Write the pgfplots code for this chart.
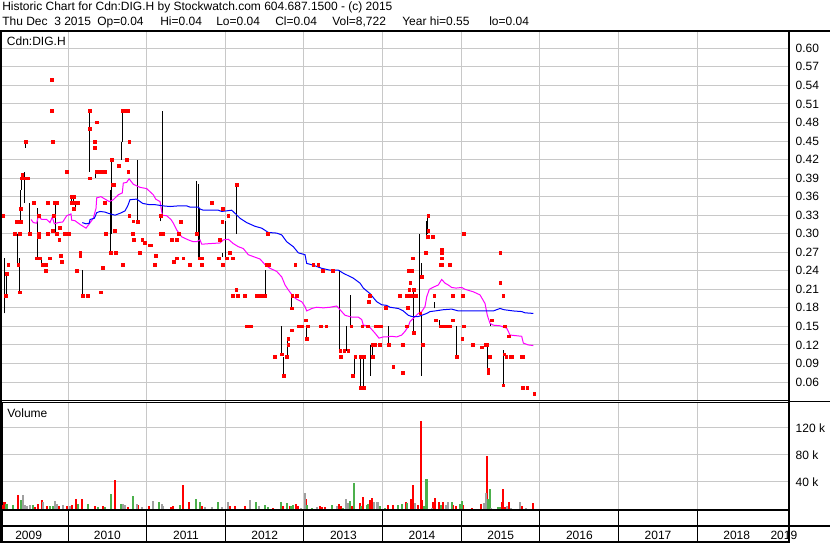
\documentclass[border=0pt]{standalone}
\usepackage{fontspec}
\setmainfont{Liberation Sans}
\usepackage{pgfplots}
\pgfplotsset{compat=1.18}

\definecolor{swred}{RGB}{255,0,0}
\definecolor{swgreen}{RGB}{76,176,76}
\definecolor{swgray}{RGB}{160,160,160}
\definecolor{swgrid}{RGB}{200,200,200}
\definecolor{swmag}{RGB}{255,0,255}
\definecolor{swblue}{RGB}{0,0,255}

% 1 px of the 830x543 reference = 0.75pt
\pgfplotsset{
  swbase/.style={
    scale only axis, width=590.25pt, anchor=south west,
    xmin=2009.161, xmax=2019.165,
    xtick={2010,...,2018}, xticklabels={}, xmajorgrids,
    grid style={swgrid, line width=0.75pt},
    major tick length=0pt,
    axis line style={line width=0.75pt},
    yticklabel pos=right,
    yticklabel style={font=\fontsize{9}{10.8}\selectfont, xshift=1.5pt},
  },
}

\begin{document}
\begin{tikzpicture}[font=\fontsize{9}{10.8}\selectfont]
\path[use as bounding box] (0,0) rectangle (622.5pt,407.25pt);

% ---------------- price panel
\begin{axis}[swbase, at={(1.5pt,107.25pt)}, height=276pt,
  ymin=0.0309, ymax=0.6264, ymajorgrids,
  ytick={0.06,0.09,0.12,0.15,0.18,0.21,0.24,0.27,0.30,0.33,0.36,0.39,0.42,0.45,0.48,0.51,0.54,0.57,0.60},
  yticklabels={0.06,0.09,0.12,0.15,0.18,0.21,0.24,0.27,0.30,0.33,0.36,0.39,0.42,0.45,0.48,0.51,0.54,0.57,0.60},
  unbounded coords=jump]

% high-low bars
\addplot[black, line width=0.75pt, mark=none] coordinates {
(2009.190,0.171)(2009.190,0.260)(2009.190,nan)
(2009.216,0.200)(2009.216,0.236)(2009.216,nan)
(2009.356,0.250)(2009.356,0.300)(2009.356,nan)
(2009.381,0.205)(2009.381,0.260)(2009.381,nan)
(2009.399,0.319)(2009.399,0.371)(2009.399,nan)
(2009.406,0.371)(2009.406,0.395)(2009.406,nan)
(2009.445,0.350)(2009.445,0.400)(2009.445,nan)
(2009.457,0.439)(2009.457,0.449)(2009.457,nan)
(2009.513,0.300)(2009.513,0.350)(2009.513,nan)
(2009.610,0.260)(2009.610,0.341)(2009.610,nan)
(2009.661,0.250)(2009.661,0.260)(2009.661,nan)
(2009.839,0.306)(2009.839,0.344)(2009.839,nan)
(2009.847,0.300)(2009.847,0.349)(2009.847,nan)
(2010.042,0.350)(2010.042,0.360)(2010.042,nan)
(2010.067,0.350)(2010.067,0.360)(2010.067,nan)
(2010.093,0.340)(2010.093,0.350)(2010.093,nan)
(2010.182,0.200)(2010.182,0.241)(2010.182,nan)
(2010.271,0.400)(2010.271,0.500)(2010.271,nan)
(2010.352,0.390)(2010.352,0.400)(2010.352,nan)
(2010.538,0.269)(2010.538,0.371)(2010.538,nan)
(2010.551,0.300)(2010.551,0.420)(2010.551,nan)
(2010.677,0.420)(2010.677,0.449)(2010.677,nan)
(2010.690,0.449)(2010.690,0.499)(2010.690,nan)
(2010.881,0.319)(2010.881,0.420)(2010.881,nan)
(2011.173,0.320)(2011.173,0.330)(2011.173,nan)
(2011.199,0.330)(2011.199,0.499)(2011.199,nan)
(2011.631,0.300)(2011.631,0.385)(2011.631,nan)
(2011.656,0.260)(2011.656,0.380)(2011.656,nan)
(2011.669,0.259)(2011.669,0.341)(2011.669,nan)
(2011.961,0.262)(2011.961,0.268)(2011.961,nan)
(2012.008,0.259)(2012.008,0.321)(2012.008,nan)
(2012.139,0.300)(2012.139,0.380)(2012.139,nan)
(2012.508,0.198)(2012.508,0.241)(2012.508,nan)
(2012.712,0.105)(2012.712,0.151)(2012.712,nan)
(2012.737,0.070)(2012.737,0.101)(2012.737,nan)
(2012.788,0.101)(2012.788,0.131)(2012.788,nan)
(2012.839,0.179)(2012.839,0.201)(2012.839,nan)
(2013.034,0.129)(2013.034,0.150)(2013.034,nan)
(2013.449,0.111)(2013.449,0.241)(2013.449,nan)
(2013.534,0.111)(2013.534,0.150)(2013.534,nan)
(2013.589,0.150)(2013.589,0.201)(2013.589,nan)
(2013.640,0.070)(2013.640,0.101)(2013.640,nan)
(2013.721,0.051)(2013.721,0.101)(2013.721,nan)
(2013.754,0.051)(2013.754,0.101)(2013.754,nan)
(2013.843,0.070)(2013.843,0.120)(2013.843,nan)
(2013.868,0.101)(2013.868,0.120)(2013.868,nan)
(2014.077,0.120)(2014.077,0.150)(2014.077,nan)
(2014.390,0.140)(2014.390,0.209)(2014.390,nan)
(2014.466,0.171)(2014.466,0.300)(2014.466,nan)
(2014.491,0.230)(2014.491,0.252)(2014.491,nan)
(2014.491,0.070)(2014.491,0.168)(2014.491,nan)
(2014.551,0.291)(2014.551,0.321)(2014.551,nan)
(2014.564,0.300)(2014.564,0.329)(2014.564,nan)
(2014.656,0.179)(2014.656,0.190)(2014.656,nan)
(2014.725,0.150)(2014.725,0.161)(2014.725,nan)
(2014.941,0.101)(2014.941,0.150)(2014.941,nan)
(2015.335,0.080)(2015.335,0.120)(2015.335,nan)
(2015.373,0.150)(2015.373,0.155)(2015.373,nan)
(2015.534,0.055)(2015.534,0.112)(2015.534,nan)
};

% short moving average (magenta)
\addplot[swmag, line width=0.75pt, mark=none] coordinates {
(2009.530,0.323)(2009.559,0.318)(2009.602,0.317)(2009.622,0.328)(2009.666,0.323)
(2009.729,0.323)(2009.771,0.318)(2009.800,0.327)(2009.826,0.316)(2009.877,0.318)
(2009.933,0.319)(2009.983,0.329)(2010.038,0.332)(2010.047,0.322)(2010.089,0.321)
(2010.153,0.315)(2010.229,0.309)(2010.271,0.316)(2010.322,0.325)(2010.356,0.341)
(2010.365,0.358)(2010.419,0.360)(2010.470,0.356)(2010.525,0.352)(2010.576,0.355)
(2010.639,0.363)(2010.690,0.366)(2010.703,0.382)(2010.746,0.383)(2010.776,0.389)
(2010.830,0.380)(2010.915,0.375)(2011.000,0.373)(2011.084,0.363)(2011.115,0.356)
(2011.170,0.352)(2011.199,0.330)(2011.255,0.329)(2011.309,0.323)(2011.339,0.317)
(2011.382,0.306)(2011.445,0.295)(2011.529,0.290)(2011.593,0.287)(2011.636,0.287)
(2011.678,0.290)(2011.700,0.283)(2011.805,0.284)(2011.932,0.285)(2011.974,0.290)
(2012.038,0.291)(2012.101,0.284)(2012.165,0.279)(2012.228,0.276)(2012.292,0.266)
(2012.355,0.263)(2012.441,0.259)(2012.504,0.250)(2012.568,0.244)(2012.653,0.239)
(2012.717,0.230)(2012.759,0.217)(2012.801,0.209)(2012.864,0.198)(2012.907,0.194)
(2012.971,0.190)(2013.013,0.182)(2013.034,0.175)(2013.098,0.179)(2013.161,0.181)
(2013.245,0.180)(2013.331,0.181)(2013.416,0.183)(2013.458,0.177)(2013.521,0.168)
(2013.606,0.165)(2013.691,0.165)(2013.734,0.161)(2013.754,0.152)(2013.817,0.151)
(2013.861,0.145)(2013.903,0.139)(2013.953,0.131)(2014.008,0.133)(2014.051,0.133)
(2014.115,0.134)(2014.178,0.133)(2014.242,0.136)(2014.284,0.142)(2014.326,0.150)
(2014.348,0.158)(2014.390,0.163)(2014.453,0.171)(2014.496,0.174)(2014.538,0.182)
(2014.560,0.198)(2014.593,0.210)(2014.636,0.213)(2014.707,0.217)(2014.750,0.226)
(2014.792,0.220)(2014.834,0.217)(2014.877,0.213)(2014.932,0.212)(2015.005,0.213)
(2015.047,0.210)(2015.152,0.206)(2015.237,0.201)(2015.301,0.187)(2015.330,0.168)
(2015.364,0.155)(2015.406,0.152)(2015.492,0.151)(2015.577,0.147)(2015.619,0.136)
(2015.767,0.134)(2015.788,0.123)(2015.851,0.120)(2015.915,0.119)
};

% long moving average (blue)
\addplot[swblue, line width=0.75pt, mark=none] coordinates {
(2010.182,0.318)(2010.229,0.316)(2010.271,0.317)(2010.280,0.323)(2010.335,0.325)
(2010.365,0.334)(2010.407,0.336)(2010.470,0.335)(2010.512,0.333)(2010.597,0.330)
(2010.661,0.333)(2010.725,0.337)(2010.759,0.345)(2010.788,0.355)(2010.873,0.356)
(2010.906,0.353)(2010.950,0.349)(2011.034,0.347)(2011.106,0.347)(2011.212,0.345)
(2011.297,0.344)(2011.402,0.345)(2011.509,0.345)(2011.551,0.343)(2011.656,0.343)
(2011.678,0.340)(2011.720,0.338)(2011.911,0.338)(2011.954,0.336)(2012.017,0.337)
(2012.081,0.338)(2012.123,0.333)(2012.186,0.325)(2012.271,0.318)(2012.377,0.312)
(2012.462,0.309)(2012.546,0.302)(2012.653,0.301)(2012.717,0.298)(2012.780,0.287)
(2012.864,0.279)(2012.928,0.269)(2013.013,0.266)(2013.034,0.252)(2013.118,0.249)
(2013.225,0.244)(2013.331,0.241)(2013.436,0.241)(2013.500,0.236)(2013.627,0.228)
(2013.712,0.220)(2013.754,0.212)(2013.839,0.203)(2013.924,0.190)(2013.988,0.185)
(2014.051,0.184)(2014.093,0.181)(2014.199,0.179)(2014.262,0.175)(2014.326,0.168)
(2014.369,0.166)(2014.453,0.166)(2014.496,0.168)(2014.560,0.171)(2014.602,0.174)
(2014.665,0.175)(2014.771,0.177)(2014.877,0.178)(2014.962,0.175)(2015.068,0.175)
(2015.237,0.175)(2015.406,0.175)(2015.492,0.179)(2015.543,0.177)(2015.661,0.175)
(2015.767,0.174)(2015.809,0.172)(2015.915,0.171)
};

% closes (red squares)
\addplot[only marks, color=swred, mark=square*, mark size=0.95pt,
  mark options={solid, draw=swred, fill=swred}] coordinates {
(2009.793,0.549)(2009.793,0.499)(2009.157,0.489)(2010.280,0.499)(2010.365,0.480)
(2010.280,0.470)(2010.699,0.499)(2010.725,0.499)(2010.746,0.499)(2010.767,0.499)
(2009.466,0.449)(2009.806,0.449)(2010.343,0.449)(2010.343,0.439)(2010.776,0.449)
(2009.983,0.400)(2010.365,0.400)(2010.419,0.400)(2010.470,0.400)(2010.767,0.400)
(2009.415,0.390)(2009.441,0.390)(2009.466,0.390)(2009.492,0.390)(2009.419,0.395)
(2010.280,0.390)(2010.559,0.420)(2010.648,0.410)(2010.746,0.420)(2010.572,0.379)
(2010.585,0.379)(2009.170,0.329)(2009.348,0.319)(2009.399,0.340)(2009.399,0.319)
(2009.568,0.350)(2009.742,0.350)(2009.835,0.350)(2009.847,0.350)(2009.860,0.350)
(2010.051,0.350)(2010.064,0.350)(2010.076,0.350)(2010.089,0.350)(2010.101,0.350)
(2010.127,0.350)(2010.051,0.360)(2010.076,0.360)(2010.076,0.340)(2009.822,0.329)
(2009.898,0.310)(2009.809,0.305)(2009.326,0.300)(2009.390,0.300)(2009.517,0.300)
(2009.631,0.300)(2009.746,0.300)(2009.860,0.300)(2009.975,0.300)(2010.000,0.300)
(2010.013,0.300)(2009.628,0.329)(2009.628,0.295)(2009.886,0.290)(2009.953,0.300)
(2009.606,0.260)(2009.622,0.260)(2009.644,0.260)(2009.682,0.250)(2009.695,0.250)
(2009.720,0.250)(2009.771,0.260)(2009.907,0.264)(2009.920,0.255)(2009.717,0.240)
(2009.241,0.250)(2009.368,0.250)(2009.221,0.235)(2009.212,0.200)(2009.390,0.205)
(2010.111,0.240)(2010.153,0.269)(2010.153,0.264)(2010.187,0.200)(2010.250,0.200)
(2010.416,0.205)(2010.441,0.245)(2010.483,0.300)(2010.543,0.269)(2010.610,0.269)
(2010.597,0.305)(2010.470,0.350)(2010.695,0.250)(2010.776,0.329)(2010.830,0.320)
(2010.886,0.319)(2010.822,0.300)(2010.839,0.290)(2010.915,0.269)(2010.944,0.290)
(2010.979,0.285)(2011.042,0.281)(2011.055,0.281)(2011.115,0.264)(2011.106,0.250)
(2011.182,0.329)(2011.182,0.300)(2011.208,0.300)(2011.436,0.319)(2011.411,0.300)
(2011.318,0.290)(2011.382,0.290)(2011.382,0.260)(2011.466,0.260)(2011.347,0.255)
(2011.551,0.250)(2011.669,0.260)(2012.148,0.379)(2011.827,0.350)(2011.966,0.340)
(2012.038,0.329)(2011.961,0.319)(2012.539,0.300)(2011.636,0.300)(2011.932,0.290)
(2012.059,0.269)(2011.678,0.260)(2011.691,0.260)(2011.703,0.260)(2011.919,0.260)
(2012.017,0.260)(2012.094,0.260)(2011.700,0.250)(2011.966,0.250)(2012.526,0.250)
(2012.555,0.250)(2012.886,0.250)(2013.118,0.250)(2013.182,0.250)(2013.238,0.240)
(2013.365,0.240)(2012.136,0.209)(2012.094,0.200)(2012.157,0.200)(2012.250,0.200)
(2012.399,0.200)(2012.420,0.200)(2012.441,0.200)(2012.462,0.200)(2012.504,0.200)
(2012.851,0.200)(2012.907,0.200)(2013.839,0.200)(2012.844,0.179)(2013.826,0.190)
(2014.039,0.180)(2012.271,0.150)(2012.326,0.150)(2012.844,0.144)(2012.936,0.150)
(2012.978,0.150)(2013.047,0.150)(2013.216,0.150)(2013.280,0.150)(2013.598,0.150)
(2013.022,0.160)(2013.034,0.130)(2013.738,0.150)(2013.810,0.150)(2013.903,0.150)
(2013.924,0.150)(2013.945,0.150)(2013.975,0.150)(2012.720,0.105)(2012.628,0.101)
(2012.780,0.101)(2012.797,0.130)(2012.797,0.120)(2013.458,0.111)(2013.509,0.111)
(2013.563,0.111)(2013.470,0.101)(2013.649,0.101)(2013.721,0.101)(2013.763,0.101)
(2013.873,0.101)(2013.619,0.070)(2012.746,0.070)(2013.721,0.051)(2013.763,0.051)
(2013.873,0.120)(2013.903,0.120)(2013.966,0.120)(2014.077,0.120)
(2014.580,0.329)(2014.580,0.305)(2014.636,0.295)(2014.573,0.295)(2014.551,0.269)
(2015.030,0.300)(2014.750,0.275)(2014.750,0.269)(2014.750,0.260)(2014.740,0.250)
(2014.760,0.250)(2014.856,0.250)(2014.382,0.260)(2014.331,0.240)(2014.373,0.240)
(2014.348,0.221)(2014.339,0.209)(2014.394,0.209)(2014.220,0.200)(2014.305,0.200)
(2014.331,0.200)(2014.356,0.200)(2014.382,0.200)(2014.420,0.200)(2014.496,0.230)
(2014.653,0.200)(2014.890,0.200)(2015.018,0.200)(2015.492,0.269)(2015.492,0.221)
(2015.530,0.200)(2014.043,0.179)(2014.322,0.180)(2014.475,0.171)(2014.678,0.160)
(2014.890,0.160)(2015.386,0.160)(2014.305,0.150)(2014.394,0.140)(2014.729,0.150)
(2014.750,0.150)(2014.771,0.150)(2014.792,0.150)(2014.813,0.150)(2014.834,0.150)
(2014.856,0.150)(2015.034,0.150)(2015.543,0.150)(2015.555,0.150)(2015.606,0.134)
(2015.009,0.130)(2014.072,0.120)(2014.254,0.120)(2014.509,0.120)(2015.145,0.120)
(2015.301,0.120)(2015.322,0.120)(2015.259,0.116)(2014.135,0.085)(2014.254,0.075)
(2014.941,0.101)(2015.364,0.101)(2015.543,0.105)(2015.568,0.101)(2015.619,0.101)
(2015.640,0.101)(2015.767,0.101)(2015.788,0.101)(2015.343,0.080)(2015.343,0.075)
(2015.534,0.055)(2015.780,0.051)(2015.835,0.051)(2015.924,0.041)
};
\node[anchor=base west, inner sep=0pt] at (rel axis cs:0.006,0) [yshift=265.75pt] {Cdn:DIG.H};
\end{axis}

% ---------------- volume panel (thousands)
\begin{axis}[swbase, at={(1.5pt,25.5pt)}, height=80.25pt,
  ymin=0, ymax=158.4, ymajorgrids,
  ytick={40,80,120}, yticklabels={40 k,80 k,120 k}]
\addplot[ycomb, swred, line width=1.5pt, mark=none] coordinates {
(2009.163,6)(2009.190,10)(2009.203,10)(2009.368,21)(2009.580,3)(2009.619,7)(2009.666,13)
(2009.729,4)(2009.889,5)(2009.983,5)(2010.047,6)(2010.102,15)(2010.174,15)(2010.343,5)
(2010.449,5)(2010.597,43)(2010.767,3)(2010.894,6)(2011.034,4)(2011.305,3)(2011.339,4)
(2011.458,36)(2011.538,10)(2011.700,4)(2012.059,4)(2012.123,4)(2012.250,4)(2012.610,2)
(2012.729,4)(2012.822,5)(2012.898,8)(2012.928,4)(2013.025,15)(2013.203,4)(2013.229,3)
(2013.267,3)(2013.449,8)(2013.470,4)(2013.606,4)(2013.712,9)(2013.750,18)(2013.839,14)
(2013.861,16)(2014.064,6)(2014.128,6)(2014.297,11)(2014.356,15)(2014.382,36)(2014.453,6)
(2014.483,131)(2014.504,14)(2014.560,16)(2014.644,11)(2014.665,16)(2014.716,11)(2014.763,11)
(2014.898,6)(2014.928,5)(2015.025,6)(2015.132,2)(2015.250,8)(2015.322,78)(2015.513,11)
(2015.526,30)(2015.555,3)(2015.602,11)(2015.767,5)(2015.907,9)
};
\addplot[ycomb, swgreen, line width=1.5pt, mark=none] coordinates {
(2009.212,8)(2009.229,8)(2009.301,6)(2009.399,13)(2009.555,6)(2009.771,4)(2009.809,4)
(2010.131,8)(2010.258,8)(2010.385,3)(2010.470,3)(2010.543,22)(2010.670,8)(2010.822,19)
(2011.161,10)(2011.424,6)(2011.627,15)(2011.678,10)(2011.911,10)(2012.390,10)(2012.504,6)
(2012.542,3)(2012.708,11)(2012.780,9)(2012.835,4)(2012.864,6)(2013.034,6)(2013.098,2)
(2013.352,6)(2013.492,2)(2013.585,12)(2013.636,38)(2013.725,5)(2013.797,6)(2013.818,8)
(2013.966,5)(2014.030,2)(2014.199,6)(2014.242,8)(2014.313,9)(2014.525,5)(2014.551,45)
(2014.568,44)(2014.738,6)(2014.877,11)(2014.983,7)(2015.005,12)(2015.343,15)(2015.361,30)
(2015.470,3)(2015.492,3)
};
\addplot[ycomb, swgray, line width=1.5pt, mark=none] coordinates {
(2009.432,21)(2009.453,6)(2009.485,4)(2009.517,6)(2009.686,10)(2009.835,12)(2009.864,8)
(2009.940,6)(2010.025,4)(2010.695,7)(2010.725,6)(2010.873,8)(2010.937,3)(2011.084,12)
(2011.191,7)(2011.212,5)(2011.742,3)(2011.827,3)(2011.954,3)(2012.038,10)(2012.314,13)
(2012.432,4)(2012.958,2)(2013.009,24)(2013.161,3)(2013.424,5)(2013.534,15)(2013.563,9)
(2013.890,11)(2013.924,11)(2013.945,11)(2014.411,9)(2014.623,2)(2014.805,6)(2014.834,11)
(2015.288,9)(2015.310,23)(2015.377,2)(2015.585,5)(2015.628,2)(2015.742,11)(2015.822,2)
};
\node[anchor=base west, inner sep=0pt] at (rel axis cs:0.0065,0) [yshift=68.5pt] {Volume};
\end{axis}

% ---------------- year band
\begin{axis}[swbase, at={(1.5pt,1.5pt)}, height=23.25pt,
  ymin=0, ymax=1, ytick=\empty,
  grid style={black, line width=0.75pt}, clip=false]
\foreach \yr in {2009,...,2018} {
  \edef\tmp{\noexpand\node[anchor=base, inner sep=0pt] at (axis cs:\yr.5,0.05) {\yr};}
  \tmp
}
\node[anchor=base, inner sep=0pt] at (axis cs:2019.10,0.05) {2019};
\end{axis}

% frame rules
\fill (0,0) rectangle (1.5pt,384pt);
\fill (591pt,0) rectangle (592.5pt,384pt);
\fill (0,383.25pt) rectangle (622.5pt,384.75pt);
\fill (0,24pt) rectangle (592.5pt,25.5pt);
\fill (0,12pt) rectangle (622.5pt,13.5pt);
\fill (0,0) rectangle (592.5pt,1.5pt);
\fill (592.5pt,106.1pt) rectangle (622.5pt,106.85pt);

% header text
\node[anchor=base west, inner sep=0pt] at (1.5pt,399pt)
  {Historic Chart for Cdn:DIG.H by Stockwatch.com 604.687.1500 - (c) 2015};
\begin{scope}[every node/.style={anchor=base west, inner sep=0pt}]
\node at (1.5pt,387.75pt) {Thu Dec~~3 2015};
\node at (72.75pt,387.75pt) {Op=0.04};
\node at (120pt,387.75pt) {Hi=0.04};
\node at (162pt,387.75pt) {Lo=0.04};
\node at (206.25pt,387.75pt) {Cl=0.04};
\node at (249pt,387.75pt) {Vol=8,722};
\node at (301.5pt,387.75pt) {Year hi=0.55};
\node at (366.75pt,387.75pt) {lo=0.04};
\end{scope}
\end{tikzpicture}
\end{document}
